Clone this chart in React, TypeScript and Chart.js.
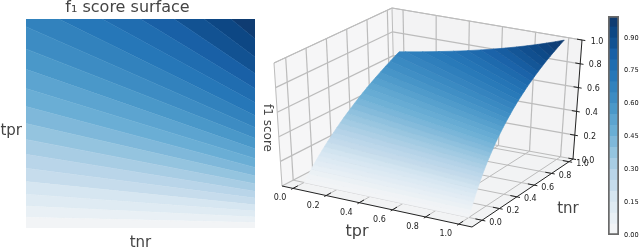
import React, { useEffect, useRef } from "react";
import { Chart, registerables } from "chart.js";

Chart.register(...registerables);

// f1 iso-levels read from the surface: each level is a straight line in the (tnr, tpr) plane
const levels = [0, 0.025, 0.05, 0.075, 0.1, 0.125, 0.15, 0.175, 0.2, 0.225, 0.25, 0.275, 0.3, 0.325, 0.35, 0.375, 0.4, 0.425, 0.45, 0.475, 0.5, 0.525, 0.55, 0.575, 0.6, 0.625, 0.65, 0.675, 0.7, 0.725, 0.75, 0.775, 0.8, 0.825, 0.85, 0.875, 0.9, 0.925, 0.95, 0.975, 1];
const startTnr = [0, 0, 0, 0, 0, 0, 0, 0, 0, 0, 0, 0, 0, 0, 0, 0, 0, 0, 0, 0, 0, 0, 0, 0, 0, 0, 0, 0.037, 0.143, 0.241, 0.333, 0.419, 0.5, 0.576, 0.647, 0.714, 0.778, 0.838, 0.895, 0.949, 1];
const startTpr = [0, 0.025, 0.051, 0.078, 0.105, 0.133, 0.162, 0.192, 0.222, 0.254, 0.286, 0.319, 0.353, 0.388, 0.424, 0.462, 0.5, 0.54, 0.581, 0.623, 0.667, 0.712, 0.759, 0.807, 0.857, 0.909, 0.963, 1, 1, 1, 1, 1, 1, 1, 1, 1, 1, 1, 1, 1, 1];
const endTpr = [0, 0.013, 0.026, 0.039, 0.053, 0.067, 0.081, 0.096, 0.111, 0.127, 0.143, 0.159, 0.176, 0.194, 0.212, 0.231, 0.25, 0.27, 0.29, 0.311, 0.333, 0.356, 0.379, 0.404, 0.429, 0.455, 0.481, 0.509, 0.538, 0.569, 0.6, 0.633, 0.667, 0.702, 0.739, 0.778, 0.818, 0.86, 0.905, 0.951, 1];
const cornerLevel = 0.667;

const axisTicks = [0, 0.2, 0.4, 0.6, 0.8, 1];
const axisTickLabels = ["0.0", "0.2", "0.4", "0.6", "0.8", "1.0"];

// colour of each 0.05 wide band, from 0.00-0.05 up to 0.95-1.00
const bandColors = ["#f2f4f6", "#e9f0f5", "#dfebf3", "#d6e6f1", "#c6dcec", "#b9d5e9", "#a8cde4", "#94c4df", "#7fb8da", "#6aaed5", "#5ca4d0", "#4a98c9", "#3d8cc3", "#3282bd", "#2677b8", "#206db0", "#1960a6", "#125292", "#0d4784", "#0f3c72"];

const FONT = '"DejaVu Sans"';
const TEXT = "#444444";

function colorAt(v: number) {
  const p = Math.min(bandColors.length - 1.001, Math.max(0, v * bandColors.length - 0.5));
  const i = Math.floor(p);
  const f = p - i;
  const a = bandColors[i];
  const b = bandColors[i + 1];
  const ch = (s: string, k: number) => parseInt(s.slice(1 + k * 2, 3 + k * 2), 16);
  const c = [0, 1, 2].map((k) => Math.round(ch(a, k) + (ch(b, k) - ch(a, k)) * f));
  return `rgb(${c[0]},${c[1]},${c[2]})`;
}

// closed outline, in (tnr, tpr, f1), of the band between level i and level j
function band(i: number, j: number) {
  const pts = [
    [startTnr[i], startTpr[i], levels[i]],
    [1, endTpr[i], levels[i]],
    [1, endTpr[j], levels[j]],
    [startTnr[j], startTpr[j], levels[j]],
  ];
  if (startTpr[i] < 1 && startTnr[j] > 0) pts.push([0, 1, cornerLevel]);
  pts.push(pts[0]);
  return pts;
}

// 3D box of the right panel: limits and the picture location of its eight corners
const xLim = [-0.0665, 1.08];
const yLim = [-0.115, 1.046];
const box = {
  p000: [282, 186], p100: [472, 227], p110: [573, 159], p010: [395, 127],
  p001: [274, 63], p101: [470, 99], p111: [582, 40], p011: [392, 8],
};

function project(X: number, Y: number, Z: number) {
  const u = (X - xLim[0]) / (xLim[1] - xLim[0]);
  const v = (Y - yLim[0]) / (yLim[1] - yLim[0]);
  const mix = (k: number) => {
    const lo = (box.p000[k] * (1 - u) + box.p100[k] * u) * (1 - v) + (box.p010[k] * (1 - u) + box.p110[k] * u) * v;
    const hi = (box.p001[k] * (1 - u) + box.p101[k] * u) * (1 - v) + (box.p011[k] * (1 - u) + box.p111[k] * u) * v;
    return lo * (1 - Z) + hi * Z;
  };
  return { x: mix(0), y: mix(1) };
}

function build3D() {
  const out: any[] = [];
  const [x0, x1] = xLim;
  const [y0, y1] = yLim;
  const poly = (pts: number[][], fill: string, stroke = fill, w = 0.6) =>
    out.push({ data: pts.map((p) => project(p[0], p[1], p[2])), showLine: true, fill: "shape", backgroundColor: fill, borderColor: stroke, borderWidth: w, pointRadius: 0, tension: 0 });
  const line = (a: number[], b: number[], color: string, w: number) =>
    out.push({ data: [project(a[0], a[1], a[2]), project(b[0], b[1], b[2])], showLine: true, fill: false, borderColor: color, borderWidth: w, pointRadius: 0, tension: 0 });

  // panes
  poly([[x0, y0, 0], [x0, y1, 0], [x0, y1, 1], [x0, y0, 1], [x0, y0, 0]], "#f6f6f7");
  poly([[x0, y1, 0], [x1, y1, 0], [x1, y1, 1], [x0, y1, 1], [x0, y1, 0]], "#f3f3f4");
  poly([[x0, y0, 0], [x1, y0, 0], [x1, y1, 0], [x0, y1, 0], [x0, y0, 0]], "#f2f3f4");

  // grid
  const GRID = "#bcbcbc";
  axisTicks.forEach((t) => {
    line([t, y0, 0], [t, y1, 0], GRID, 1);
    line([x0, t, 0], [x1, t, 0], GRID, 1);
    line([x0, t, 0], [x0, t, 1], GRID, 1.2);
    line([t, y1, 0], [t, y1, 1], GRID, 1.2);
    line([x0, y0, t], [x0, y1, t], GRID, 1.2);
    line([x0, y1, t], [x1, y1, t], GRID, 1.2);
  });
  line([x0, y0, 0], [x0, y0, 1], GRID, 1);
  line([x0, y0, 1], [x0, y1, 1], GRID, 1);
  line([x0, y1, 0], [x0, y1, 1], GRID, 1);
  line([x0, y1, 1], [x1, y1, 1], GRID, 1);

  // surface
  for (let i = 0; i < levels.length - 1; i++) {
    poly(band(i, i + 1), colorAt((levels[i] + levels[i + 1]) / 2));
  }

  // axes
  const AX = "#222222";
  line([x0, y0, 0], [x1, y0, 0], AX, 1);
  line([x1, y0, 0], [x1, y1, 0], AX, 1);
  line([x1, y1, 0], [x1, y1, 1], AX, 1);
  axisTicks.forEach((t) => {
    line([t, y0 - 0.02, 0], [t, y0 + 0.05, 0], AX, 1);
    line([x1 - 0.04, t, 0], [x1 + 0.02, t, 0], AX, 1);
    line([x1 - 0.03, y1, t], [x1 + 0.02, y1, t], AX, 1);
  });
  return out.map((d, i) => ({ ...d, order: out.length - i }));
}

const labels3D = {
  id: "labels3D",
  afterDraw(chart: any) {
    const { ctx, scales } = chart;
    const put = (px: number, py: number, s: string, size: number, color: string, rot = 0) => {
      ctx.save();
      ctx.translate(scales.x.getPixelForValue(px), scales.y.getPixelForValue(py));
      ctx.rotate(rot);
      ctx.font = `${size}px ${FONT}`;
      ctx.fillStyle = color;
      ctx.textAlign = "center";
      ctx.textBaseline = "middle";
      ctx.fillText(s, 0, 0);
      ctx.restore();
    };
    axisTicks.forEach((t, i) => {
      const a = project(t, yLim[0], 0);
      put(a.x - 13, a.y + 10, axisTickLabels[i], 8, "#222222");
      const b = project(xLim[1], t, 0);
      put(b.x + 13.5, b.y + 2.5, axisTickLabels[i], 8, "#222222");
      const c = project(xLim[1], yLim[1], t);
      put(c.x + 15, c.y + 1.5, axisTickLabels[i], 8, "#222222");
    });
    put(357, 232, "tpr", 16, TEXT);
    put(568, 209, "tnr", 15, TEXT);
    put(267, 128, "f1 score", 12, TEXT, Math.PI / 2);
  },
};

const hiddenScale = { display: false };

function useChart(make: (c: HTMLCanvasElement) => Chart) {
  const ref = useRef<HTMLCanvasElement | null>(null);
  useEffect(() => {
    const chart = make(ref.current as HTMLCanvasElement);
    return () => chart.destroy();
  }, []);
  return ref;
}

const base = { responsive: false, animation: false as const };

export default function App() {
  const leftRef = useChart((c) => {
    const datasets: any[] = [];
    for (let i = 0; i + 2 < levels.length; i += 2) {
      datasets.push({
        data: band(i, i + 2).map((p) => ({ x: p[0], y: p[1] })),
        showLine: true,
        fill: "shape",
        backgroundColor: bandColors[i / 2],
        borderColor: bandColors[i / 2],
        borderWidth: 0.5,
        pointRadius: 0,
        tension: 0,
      });
    }
    return new Chart(c, {
      type: "scatter",
      data: { datasets },
      options: {
        ...base,
        layout: { padding: { left: 0, right: 31, top: 0, bottom: 0 } },
        plugins: {
          legend: { display: false },
          tooltip: { enabled: false },
          title: { display: true, text: "f\u2081 score surface", color: TEXT, font: { family: FONT, size: 16, weight: "normal", lineHeight: 1 }, padding: { top: 0, bottom: 3 } },
        },
        scales: {
          x: {
            min: 0, max: 1,
            grid: { display: false, drawTicks: false },
            border: { display: false },
            afterBuildTicks: (s: any) => { s.ticks = [{ value: 0.5 }]; },
            ticks: { autoSkip: false, maxRotation: 0, padding: 6, color: TEXT, font: { family: FONT, size: 15 }, callback: () => "tnr" },
            afterFit: (s: any) => { s.height = 19; },
          },
          y: {
            min: 0, max: 1,
            grid: { display: false, drawTicks: false },
            border: { display: false },
            afterBuildTicks: (s: any) => { s.ticks = [{ value: 0.464 }]; },
            ticks: { autoSkip: false, padding: 4, color: TEXT, font: { family: FONT, size: 15 }, callback: () => "tpr" },
            afterFit: (s: any) => { s.width = 26; },
          },
        },
      },
    } as any);
  });

  const midRef = useChart((c) =>
    new Chart(c, {
      type: "scatter",
      data: { datasets: build3D() },
      options: {
        ...base,
        layout: { padding: 0 },
        plugins: { legend: { display: false }, tooltip: { enabled: false } },
        scales: {
          x: { ...hiddenScale, min: 0, max: 640 },
          y: { ...hiddenScale, min: 0, max: 247, reverse: true },
        },
      },
      plugins: [labels3D],
    } as any)
  );

  const barRef = useChart((c) => {
    const datasets: any[] = [];
    for (let i = 0; i + 2 < levels.length; i += 2) {
      datasets.push({
        data: [[levels[i], levels[i + 2]]],
        backgroundColor: bandColors[i / 2],
        borderWidth: 0,
        barPercentage: 1,
        categoryPercentage: 1,
        grouped: false,
        order: 2,
      });
    }
    datasets.push({
      data: [[0, 1]],
      backgroundColor: "rgba(0,0,0,0)",
      borderColor: "#6a6a6a",
      borderWidth: 1.4,
      borderSkipped: false,
      barPercentage: 1,
      categoryPercentage: 1,
      grouped: false,
      order: 1,
    });
    return new Chart(c, {
      type: "bar",
      data: { labels: ["f1"], datasets },
      options: {
        ...base,
        layout: { padding: { left: 8, right: 0, top: 16, bottom: 12 } },
        plugins: { legend: { display: false }, tooltip: { enabled: false } },
        scales: {
          x: { display: false },
          y: {
            position: "right",
            min: 0, max: 1,
            grid: { display: false, drawTicks: true, tickLength: 3, tickColor: "#333333" },
            border: { display: false },
            ticks: { stepSize: 0.15, includeBounds: false, padding: 2, color: "#111111", font: { family: FONT, size: 6.6 }, callback: (v: any) => Number(v).toFixed(2) },
            afterFit: (s: any) => { s.width = 21; },
          },
        },
      },
    } as any);
  });

  const abs = (left: number, w: number): React.CSSProperties => ({ position: "absolute", left, top: 0, width: w, height: 247, filter: "blur(0.35px)" });
  return (
    <div style={{ position: "absolute", left: 0, top: 0, width: 640, height: 247, overflow: "hidden", background: "#fff" }}>
      <canvas ref={midRef} width={640} height={247} style={abs(0, 640)} />
      <canvas ref={leftRef} width={286} height={247} style={abs(0, 286)} />
      <canvas ref={barRef} width={40} height={247} style={abs(600, 40)} />
    </div>
  );
}
